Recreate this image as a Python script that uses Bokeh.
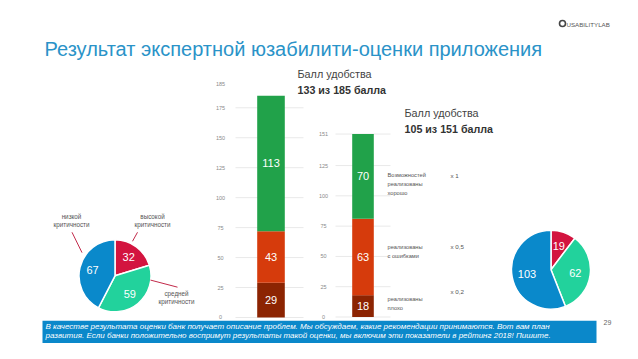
import numpy as np
from bokeh.plotting import figure
from bokeh.models import Range1d, ColumnDataSource
from bokeh.core.properties import value
from bokeh.embed import file_html
from bokeh.resources import INLINE

# ---------------- data ----------------
title = "Результат экспертной юзабилити-оценки приложения"
logo = "USABILITYLAB"
score_caption = "Балл удобства"
score1 = "133 из 185 балла"
score2 = "105 из 151 балла"

bar_levels = ["плохо", "с ошибками", "хорошо"]
bar1_values = [29, 43, 113]
bar2_values = [18, 63, 70]
bar1_ticks = [0, 25, 50, 75, 100, 125, 150, 175, 185]
bar2_ticks = [0, 25, 50, 75, 100, 125, 151]
level_texts = [["реализованы", "плохо"],
               ["реализованы", "с ошибками"],
               ["Возможностей", "реализованы", "хорошо"]]
weights = ["x 0,2", "x 0,5", "x 1"]

pie_categories = ["высокой критичности", "средней критичности", "низкой критичности"]
pie1_values = [32, 59, 67]
pie2_values = [19, 62, 103]
pie1_callouts = [["высокой", "критичности"], ["средней", "критичности"], ["низкой", "критичности"]]

footer_lines = [
    "В качестве результата оценки банк получает описание проблем. Мы обсуждаем, какие рекомендации принимаются. Вот вам план",
    "развития. Если банки положительно воспримут результаты такой оценки, мы включим эти показатели в рейтинг 2018! Пишите.",
]
page_number = "29"

# ---------------- styles ----------------
FONT = value("Liberation Sans")
BAR_COLORS = ["#8C2402", "#D63B0C", "#21A24A"]
PIE_COLORS = ["#D3143F", "#22D29C", "#0A89CB"]
TITLE_COLOR = "#2A93C8"
FOOTER_COLOR = "#0B88CA"
TEXT_DARK = "#444444"
TICK_COLOR = "#8a8a8a"
GRID_COLOR = "#e9e9e9"

W, H = 622, 343
p = figure(width=W, height=H, x_range=Range1d(0, W), y_range=Range1d(0, H),
           output_backend="svg", toolbar_location=None, min_border=0,
           x_axis_type=None, y_axis_type=None)
p.grid.visible = False
p.outline_line_color = None
p.background_fill_color = "white"
p.border_fill_color = "white"

# layout: the slide is 359 px tall, the figure 343 -> compress below the title
BREAK = 60.0
S = (H - BREAK) / (359.0 - BREAK)


def M(sy):
    return sy if sy <= BREAK else BREAK + (sy - BREAK) * S


def Y(sy):
    """slide y (from top) -> data y"""
    return H - M(sy)


def txt(x, sy, t, size, color=TEXT_DARK, align="left", style="normal", **kw):
    p.text(x=[x], y=[Y(sy)], text=[t], text_font=FONT, text_font_size=size,
           text_color=color, text_align=align, text_baseline="middle",
           text_font_style=style, **kw)


# ---------------- header ----------------
p.scatter(x=[562], y=[Y(23)], size=6, marker="circle", fill_color=None,
          line_color="#444444", line_width=1.6)
txt(566, 23.5, logo, "6.2px", color="#555555")
txt(44, 48, title, "20px", color=TITLE_COLOR)

# ---------------- stacked bars ----------------
bars = [
    dict(name="b1", values=bar1_values, ticks=bar1_ticks, zero=331.5, k=1.266,
         x=270.5, w=27.6, tick_x=220, grid=(235, 303), caption=(297, 74, 91.5), score=score1),
    dict(name="b2", values=bar2_values, ticks=bar2_ticks, zero=331.0, k=1.28,
         x=362.5, w=21.6, tick_x=323, grid=(335, 390), caption=(404, 115, 132), score=score2),
]
for b in bars:
    z, k = M(b["zero"]), b["k"] * S
    p.extra_y_ranges[b["name"]] = Range1d((z - H) / k, z / k)
    ticks = np.array(b["ticks"], float)
    top_tick = ticks.max()
    grid_ticks = ticks[ticks < top_tick] if b["name"] == "b1" else ticks
    p.segment(x0=b["grid"][0], x1=b["grid"][1], y0=grid_ticks, y1=grid_ticks,
              line_color=GRID_COLOR, line_width=1, y_range_name=b["name"])
    offs = [12 if (t == top_tick and b["name"] == "b1") else 0 for t in ticks]
    p.text(x=b["tick_x"], y=ticks, text=[str(int(t)) for t in ticks], y_offset=[-o for o in offs],
           text_font=FONT, text_font_size="5.5px", text_color=TICK_COLOR,
           text_align="center", text_baseline="middle", y_range_name=b["name"])
    vals = np.array(b["values"], float)
    tops = np.cumsum(vals)
    bottoms = tops - vals
    src = ColumnDataSource(dict(bottom=bottoms, top=tops, color=BAR_COLORS,
                                mid=(bottoms + tops) / 2, label=[str(int(v)) for v in vals]))
    p.vbar(x=b["x"], width=b["w"], bottom="bottom", top="top", fill_color="color",
           line_color=None, source=src, y_range_name=b["name"])
    p.text(x=b["x"], y="mid", text="label", source=src, text_font=FONT,
           text_font_size="11px", text_color="white", text_align="center",
           text_baseline="middle", y_range_name=b["name"])
    cx, sy1, sy2 = b["caption"]
    txt(cx, sy1, score_caption, "10.8px", color=TEXT_DARK)
    txt(cx, sy2, b["score"], "10.7px", color="#333333", style="bold")

# level descriptions beside second bar
level_sy = [[312, 321], [257.5, 266.5], [181.5, 190.5, 199.5]]
weight_sy = [304, 257, 182]
for lines, sys_, wgt, wsy in zip(level_texts, level_sy, weights, weight_sy):
    for line, sy in zip(lines, sys_):
        txt(387, sy, line, "5.7px", color="#555555")
    txt(450, wsy, wgt, "6.2px", color="#555555")

# ---------------- pies ----------------
def pie(cx, csy, r, vals, label_frac):
    vals = np.array(vals, float)
    cum = np.concatenate([[0], np.cumsum(vals / vals.sum())]) * 2 * np.pi
    start = np.pi / 2 - cum[1:]
    end = np.pi / 2 - cum[:-1]
    p.wedge(x=cx, y=Y(csy), radius=r, start_angle=start, end_angle=end,
            fill_color=PIE_COLORS, line_color="white", line_width=1.5)
    mid = (cum[:-1] + cum[1:]) / 2
    lx = cx + label_frac * r * np.sin(mid)
    ly = Y(csy) + label_frac * r * np.cos(mid)
    p.text(x=lx, y=ly, text=[str(int(v)) for v in vals], text_font=FONT,
           text_font_size="11px", text_color="white", text_align="center",
           text_baseline="middle")


pie(114.5, 287.5, 36.0, pie1_values, 0.64)
pie(550.5, 281.0, 39.5, pie2_values, 0.62)

# callouts for first pie
callout_label_pos = [(152, 225), (176, 306), (71, 225)]
callout_line = [((132, 251), (137, 241.5)), ((150, 292), (177, 299.5)), ((81.5, 263), (71.5, 241.5))]
for lines, (lx, lsy), ((x0, s0), (x1, s1)) in zip(pie1_callouts, callout_label_pos, callout_line):
    p.segment(x0=[x0], y0=[Y(s0)], x1=[x1], y1=[Y(s1)], line_color="#C22A4A", line_width=1)
    for i, line in enumerate(lines):
        txt(lx, lsy + i * 8.5, line, "6.3px", color="#555555", align="center")

# ---------------- footer ----------------
p.quad(left=42, right=596, bottom=Y(358.5), top=Y(335), fill_color=FOOTER_COLOR, line_color=None)
for i, line in enumerate(footer_lines):
    txt(45, 340.8 + i * 10, line, "8px", color="white", style="italic")
txt(603, 337, page_number, "7px", color="#666666")

open("out.html", "w").write(file_html(p, INLINE))
